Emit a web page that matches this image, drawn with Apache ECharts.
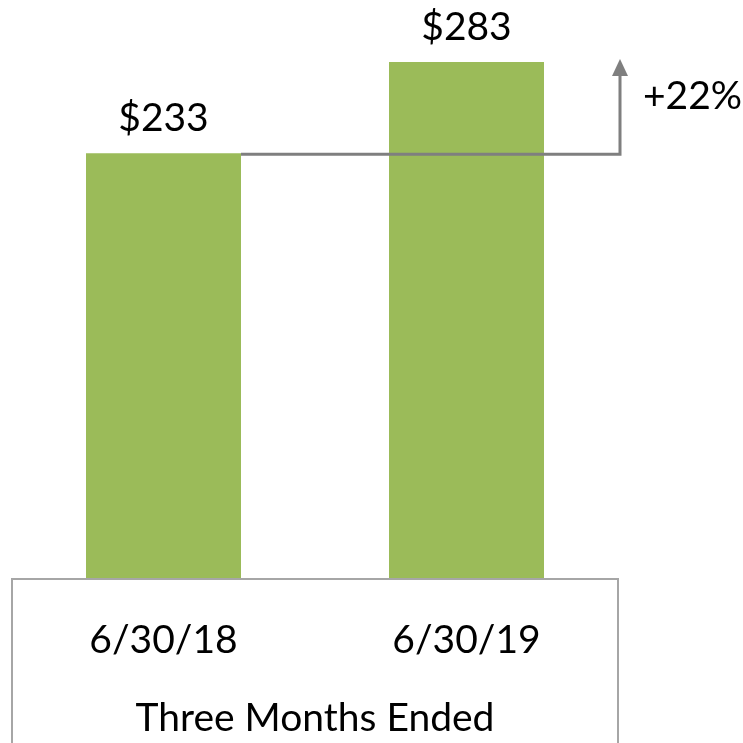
<!DOCTYPE html>
<html>
<head>
<meta charset="utf-8">
<script src="https://cdn.jsdelivr.net/npm/echarts@6/dist/echarts.min.js"></script>
<style>
  html, body { margin: 0; padding: 0; background: #fff; }
  #chart { width: 743px; height: 743px; }
</style>
</head>
<body>
<div id="chart"></div>
<script>
// Datos
const categories = ['6/30/18', '6/30/19'];
const values = [233, 283];
const axisTitle = 'Three Months Ended';
const growthLabel = '+22%';

const FONT = 'Lato';
const FS = 39;
const GREEN = '#9bbb59';
const GRAY = '#7f7f7f';
const BAR_W = 155;

const chart = echarts.init(document.getElementById('chart'), null, { renderer: 'canvas' });

const option = {
  animation: false,
  grid: { left: 12, right: 125, top: 62, bottom: 164 },
  xAxis: {
    type: 'category',
    data: categories,
    axisLine: { show: false },
    axisTick: { show: false },
    axisLabel: { color: '#000', fontFamily: FONT, fontSize: FS, margin: 43 },
    name: axisTitle,
    nameLocation: 'middle',
    nameGap: 121,
    nameTextStyle: { color: '#000', fontFamily: FONT, fontSize: FS }
  },
  yAxis: { type: 'value', min: 0, max: 283, show: false, splitLine: { show: false } },
  series: [
    {
      type: 'bar',
      data: values,
      barWidth: BAR_W,
      itemStyle: { color: GREEN },
      label: {
        show: true,
        position: 'top',
        distance: 15,
        color: '#000',
        fontFamily: FONT,
        fontSize: FS,
        formatter: p => '$' + p.value
      },
      z: 2
    },
    {
      // flecha de crecimiento entre barras
      type: 'custom',
      coordinateSystem: 'cartesian2d',
      data: [[0, values[0], 1, values[1]]],
      z: 3,
      renderItem: function (params, api) {
        const p1 = api.coord([api.value(0), api.value(1)]);
        const p2 = api.coord([api.value(2), api.value(3)]);
        const band = api.size([1, 0])[0];
        const x0 = p1[0] + BAR_W / 2;
        const y0 = p1[1] + 1;
        const x1 = p2[0] + band / 2 + 2;
        const tip = p2[1] - 3;
        return {
          type: 'group',
          children: [
            {
              type: 'polyline',
              shape: { points: [[x0, y0], [x1, y0], [x1, tip + 14]] },
              style: { stroke: GRAY, lineWidth: 3, fill: null }
            },
            {
              type: 'polygon',
              shape: { points: [[x1, tip], [x1 - 8, tip + 17], [x1 + 8, tip + 17]] },
              style: { fill: GRAY }
            },
            {
              type: 'text',
              x: x1 + 23,
              y: tip + 37,
              style: {
                text: growthLabel,
                fill: '#000',
                font: FS + 'px ' + FONT,
                textVerticalAlign: 'middle'
              }
            }
          ]
        };
      }
    }
  ],
  graphic: [
    {
      type: 'rect',
      shape: { x: 12, y: 579, width: 606, height: 200 },
      style: { fill: null, stroke: '#a6a6a6', lineWidth: 2 },
      z: 1
    }
  ]
};

chart.setOption(option);
window.addEventListener('resize', () => chart.resize());
</script>
</body>
</html>
